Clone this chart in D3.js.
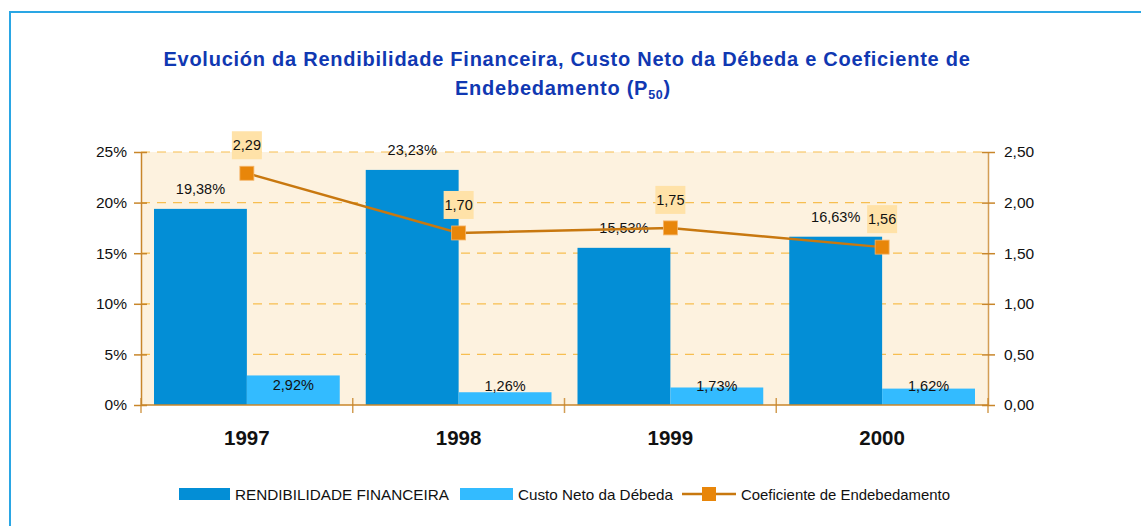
<!DOCTYPE html>
<html><head><meta charset="utf-8">
<script src="https://cdn.jsdelivr.net/npm/d3@7"></script>
<style>
html,body{margin:0;padding:0;background:#fff;}
svg{display:block;font-family:"Liberation Sans",Arial,sans-serif;}
</style></head>
<body>
<svg id="c" width="1141" height="526"></svg>
<script>
const years = ["1997","1998","1999","2000"];
const rendibilidade = [19.38, 23.23, 15.53, 16.63];
const custo = [2.92, 1.26, 1.73, 1.62];
const coeficiente = [2.29, 1.70, 1.75, 1.56];
const leftTicks = [0,5,10,15,20,25];
const rightTicks = [0,0.5,1,1.5,2,2.5];
const seriesNames = ["RENDIBILIDADE FINANCEIRA","Custo Neto da Débeda","Coeficiente de Endebedamento"];

const svg = d3.select("#c");
const L=141, R=988, T=152, B=405;
const fmt2 = v => d3.format(".2f")(v).replace(".", ",");

// border
svg.append("rect").attr("x",10).attr("y",12).attr("width",1140).attr("height",530)
  .attr("fill","none").attr("stroke","#2AA6E4").attr("stroke-width",2);

// title
const title = svg.append("text").attr("text-anchor","middle").attr("fill","#1038B2")
  .attr("font-weight","bold").attr("font-size",20).attr("letter-spacing",0.75);
title.append("tspan").attr("x",567).attr("y",66).text("Evolución da Rendibilidade Financeira, Custo Neto da Débeda e Coeficiente de");
title.append("tspan").attr("x",563).attr("y",95).text("Endebedamento (P");
title.append("tspan").attr("font-size",12.5).attr("dy",4).text("50");
title.append("tspan").attr("dy",-4).text(")");

const x = d3.scaleBand().domain(years).range([L,R]).paddingInner(0).paddingOuter(0);
const yL = d3.scaleLinear().domain([0,25]).range([B,T]);
const yR = d3.scaleLinear().domain([0,2.5]).range([B,T]);
const pad = 13;
const bw = (x.bandwidth()-2*pad)/2;

// plot background
svg.append("rect").attr("x",L).attr("y",T).attr("width",R-L).attr("height",B-T).attr("fill","#FDF2DF");

// gridlines
svg.append("g").selectAll("line").data(leftTicks.filter(d=>d>0)).join("line")
  .attr("x1",L).attr("x2",R).attr("y1",d=>yL(d)).attr("y2",d=>yL(d))
  .attr("stroke","#F7BE50").attr("stroke-width",1.2).attr("stroke-dasharray","9,7");

// bars
svg.append("g").selectAll("rect").data(years).join("rect")
  .attr("x",d=>x(d)+pad).attr("width",bw)
  .attr("y",(d,i)=>yL(rendibilidade[i])).attr("height",(d,i)=>B-yL(rendibilidade[i]))
  .attr("fill","#038ED6");
svg.append("g").selectAll("rect").data(years).join("rect")
  .attr("x",d=>x(d)+pad+bw).attr("width",bw)
  .attr("y",(d,i)=>yL(custo[i])).attr("height",(d,i)=>B-yL(custo[i]))
  .attr("fill","#33BBFF");

// axes
const axCol = "#C8862A";
const gL = svg.append("g").attr("transform",`translate(${L},0)`)
  .call(d3.axisLeft(yL).tickValues(leftTicks).tickSize(0).tickPadding(14).tickFormat(d=>d+"%"));
gL.select(".domain").attr("stroke",axCol).attr("stroke-width",1.5);
gL.selectAll(".tick text").attr("font-size",15.5).attr("fill","#111").attr("font-family","Liberation Sans, Arial");
gL.selectAll(".tick").append("line").attr("x1",-7).attr("x2",6).attr("stroke",axCol).attr("stroke-width",1.5);

const gR = svg.append("g").attr("transform",`translate(${R},0)`)
  .call(d3.axisRight(yR).tickValues(rightTicks).tickSize(0).tickPadding(16).tickFormat(fmt2));
gR.select(".domain").attr("stroke",axCol).attr("stroke-width",1.5).attr("opacity",0.8);
gR.selectAll(".tick text").attr("font-size",15.5).attr("fill","#111").attr("font-family","Liberation Sans, Arial");
gR.selectAll(".tick").append("line").attr("x1",-6).attr("x2",7).attr("stroke",axCol).attr("stroke-width",1.5);

// bottom axis
svg.append("line").attr("x1",L).attr("x2",R).attr("y1",B).attr("y2",B).attr("stroke",axCol).attr("stroke-width",1.5);
const bTicks = years.map(d=>x(d)).concat([R]);
svg.append("g").selectAll("line").data(bTicks).join("line")
  .attr("x1",d=>d).attr("x2",d=>d).attr("y1",B-7).attr("y2",B+8)
  .attr("stroke",axCol).attr("stroke-width",1.5).attr("opacity",0.8);
svg.append("g").selectAll("text").data(years).join("text")
  .attr("x",d=>x(d)+x.bandwidth()/2).attr("y",445).attr("text-anchor","middle")
  .attr("font-weight","bold").attr("font-size",20.5).attr("fill","#111").text(d=>d);

// bar labels
svg.append("g").selectAll("text").data(years).join("text")
  .attr("x",d=>x(d)+pad+bw/2).attr("y",(d,i)=>yL(rendibilidade[i])-15)
  .attr("text-anchor","middle").attr("font-size",14.5).attr("fill","#111")
  .text((d,i)=>fmt2(rendibilidade[i])+"%");
svg.append("g").selectAll("text").data(years).join("text")
  .attr("x",d=>x(d)+pad+bw*1.5).attr("y",(d,i)=>Math.min(yL(custo[i])+15, B-14))
  .attr("text-anchor","middle").attr("font-size",14.5).attr("fill","#111")
  .text((d,i)=>fmt2(custo[i])+"%");

// line
const lineCol = "#C8780F";
const cx = d => x(d)+x.bandwidth()/2;
svg.append("path").datum(years)
  .attr("d", d3.line().x(d=>cx(d)).y((d,i)=>yR(coeficiente[i])))
  .attr("fill","none").attr("stroke",lineCol).attr("stroke-width",2.5);
svg.append("g").selectAll("rect").data(years).join("rect")
  .attr("x",d=>cx(d)-7).attr("y",(d,i)=>yR(coeficiente[i])-7).attr("width",14).attr("height",14)
  .attr("fill","#E8860A").attr("stroke","#F5B56A").attr("stroke-width",0.8);
// coef labels
const cl = svg.append("g").selectAll("g").data(years).join("g")
  .attr("transform",(d,i)=>`translate(${cx(d)},${yR(coeficiente[i])-28})`);
cl.append("rect").attr("x",-15).attr("y",-14).attr("width",30).attr("height",28).attr("fill","#FFE2A8");
cl.append("text").attr("y",5).attr("text-anchor","middle").attr("font-size",14.5).attr("fill","#111")
  .text((d,i)=>fmt2(coeficiente[i]));

// legend
const lg = svg.append("g").attr("font-size",15).attr("fill","#111");
lg.append("rect").attr("x",179).attr("y",488).attr("width",51).attr("height",12).attr("fill","#038ED6");
lg.append("text").attr("x",235).attr("y",499.5).attr("textLength",214).attr("lengthAdjust","spacingAndGlyphs").text(seriesNames[0]);
lg.append("rect").attr("x",460).attr("y",488).attr("width",53).attr("height",12).attr("fill","#33BBFF");
lg.append("text").attr("x",518).attr("y",499.5).attr("textLength",155).attr("lengthAdjust","spacingAndGlyphs").text(seriesNames[1]);
lg.append("line").attr("x1",682).attr("x2",736).attr("y1",494).attr("y2",494).attr("stroke",lineCol).attr("stroke-width",2.5);
lg.append("rect").attr("x",702).attr("y",487).attr("width",14).attr("height",14).attr("fill","#E8860A");
lg.append("text").attr("x",741).attr("y",499.5).attr("textLength",209).attr("lengthAdjust","spacingAndGlyphs").text(seriesNames[2]);
</script>
</body></html>
